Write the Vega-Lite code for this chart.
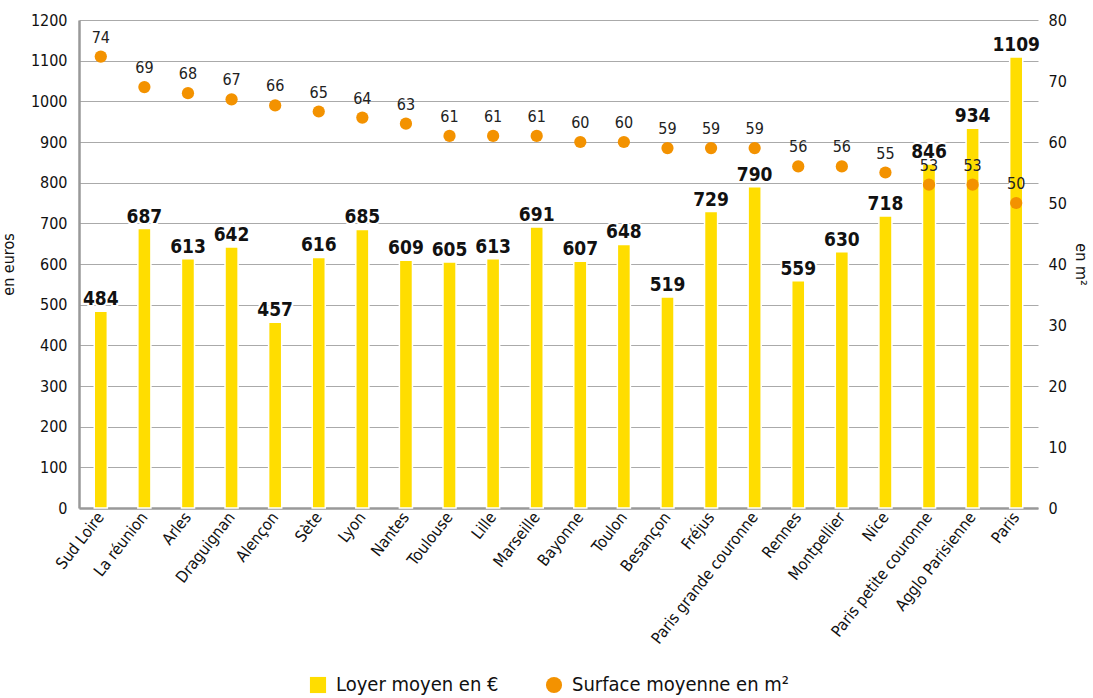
{
  "$schema": "https://vega.github.io/schema/vega-lite/v6.json",
  "width": 959,
  "height": 488,
  "autosize": {"type": "none"},
  "padding": {"left": 79, "top": 20, "right": 55, "bottom": 190},
  "background": "white",
  "config": {
    "font": "Liberation Sans Narrow, DejaVu Sans Condensed, Roboto Condensed, Open Sans Condensed, Liberation Sans, sans-serif",
    "view": {"stroke": null}
  },
  "data": {
    "values": [
      {"ville": "Sud Loire", "loyer": 484, "surface": 74},
      {"ville": "La réunion", "loyer": 687, "surface": 69},
      {"ville": "Arles", "loyer": 613, "surface": 68},
      {"ville": "Draguignan", "loyer": 642, "surface": 67},
      {"ville": "Alençon", "loyer": 457, "surface": 66},
      {"ville": "Sète", "loyer": 616, "surface": 65},
      {"ville": "Lyon", "loyer": 685, "surface": 64},
      {"ville": "Nantes", "loyer": 609, "surface": 63},
      {"ville": "Toulouse", "loyer": 605, "surface": 61},
      {"ville": "Lille", "loyer": 613, "surface": 61},
      {"ville": "Marseille", "loyer": 691, "surface": 61},
      {"ville": "Bayonne", "loyer": 607, "surface": 60},
      {"ville": "Toulon", "loyer": 648, "surface": 60},
      {"ville": "Besançon", "loyer": 519, "surface": 59},
      {"ville": "Fréjus", "loyer": 729, "surface": 59},
      {"ville": "Paris grande couronne", "loyer": 790, "surface": 59},
      {"ville": "Rennes", "loyer": 559, "surface": 56},
      {"ville": "Montpellier", "loyer": 630, "surface": 56},
      {"ville": "Nice", "loyer": 718, "surface": 55},
      {"ville": "Paris petite couronne", "loyer": 846, "surface": 53},
      {"ville": "Agglo Parisienne", "loyer": 934, "surface": 53},
      {"ville": "Paris", "loyer": 1109, "surface": 50}
    ]
  },
  "encoding": {
    "x": {
      "field": "ville",
      "type": "nominal",
      "sort": null,
      "scale": {"paddingInner": 0.7, "paddingOuter": 0.35},
      "axis": {
        "title": null,
        "labelAngle": -52,
        "labelFontSize": 16,
        "labelColor": "#111",
        "labelPadding": 6,
        "ticks": false,
        "domainColor": "#999",
        "domainWidth": 2.5
      }
    }
  },
  "layer": [
    {
      "layer": [
        {
          "mark": {"type": "bar", "stroke": "white", "strokeWidth": 1.5},
          "encoding": {
            "y": {
              "field": "loyer",
              "type": "quantitative",
              "scale": {"domain": [0, 1200], "nice": false},
              "axis": {
                "title": "en euros",
                "titleFontSize": 16,
                "titleFontWeight": "normal",
                "titleColor": "#111",
                "titlePadding": 14,
                "format": "d",
                "values": [0, 100, 200, 300, 400, 500, 600, 700, 800, 900, 1000, 1100, 1200],
                "labelFontSize": 16,
                "labelColor": "#111",
                "labelPadding": 12,
                "ticks": false,
                "domainColor": "#999",
                "domainWidth": 2.5,
                "gridColor": "#aaa",
                "gridWidth": 1
              }
            },
            "fill": {
              "datum": "Loyer moyen en €",
              "type": "nominal",
              "scale": {"domain": ["Loyer moyen en €"], "range": ["#FFDD00"]},
              "legend": {
                "title": null,
                "orient": "none",
                "legendX": 229,
                "legendY": 655,
                "symbolType": "square",
                "labelFontSize": 20,
                "labelColor": "#111",
                "labelLimit": 300,
                "symbolSize": 260,
                "symbolStrokeWidth": 0,
                "labelOffset": 8
              }
            }
          }
        },
        {
          "mark": {"type": "text", "dy": -12, "fontSize": 19, "fontWeight": "bold", "color": "white", "stroke": "white", "strokeWidth": 4},
          "encoding": {
            "y": {"field": "loyer", "type": "quantitative"},
            "text": {"field": "loyer", "type": "quantitative"}
          }
        },
        {
          "mark": {"type": "text", "dy": -12, "fontSize": 19, "fontWeight": "bold", "color": "#111"},
          "encoding": {
            "y": {"field": "loyer", "type": "quantitative"},
            "text": {"field": "loyer", "type": "quantitative"}
          }
        }
      ]
    },
    {
      "layer": [
        {
          "mark": {"type": "point", "shape": "circle", "filled": true, "size": 150, "opacity": 1},
          "encoding": {
            "y": {
              "field": "surface",
              "type": "quantitative",
              "scale": {"domain": [0, 80], "nice": false},
              "axis": {
                "orient": "right",
                "title": "en m²",
                "titleFontSize": 16,
                "titleFontWeight": "normal",
                "titleColor": "#111",
                "titlePadding": 6,
                "values": [0, 10, 20, 30, 40, 50, 60, 70, 80],
                "labelFontSize": 16,
                "labelColor": "#111",
                "labelPadding": 10,
                "ticks": false,
                "domain": false,
                "grid": false
              }
            },
            "color": {
              "datum": "Surface moyenne en m²",
              "type": "nominal",
              "scale": {"domain": ["Surface moyenne en m²"], "range": ["#F39200"]},
              "legend": {
                "title": null,
                "orient": "none",
                "legendX": 465,
                "legendY": 655,
                "symbolType": "circle",
                "labelFontSize": 20,
                "labelColor": "#111",
                "labelLimit": 300,
                "symbolSize": 260,
                "symbolStrokeWidth": 0,
                "labelOffset": 8
              }
            }
          }
        },
        {
          "mark": {"type": "text", "dy": -19, "fontSize": 16, "color": "#222"},
          "encoding": {
            "y": {"field": "surface", "type": "quantitative", "scale": {"domain": [0, 80], "nice": false}},
            "text": {"field": "surface", "type": "quantitative"}
          }
        }
      ],
      "resolve": {"scale": {"y": "shared"}}
    }
  ],
  "resolve": {"scale": {"y": "independent"}}
}
